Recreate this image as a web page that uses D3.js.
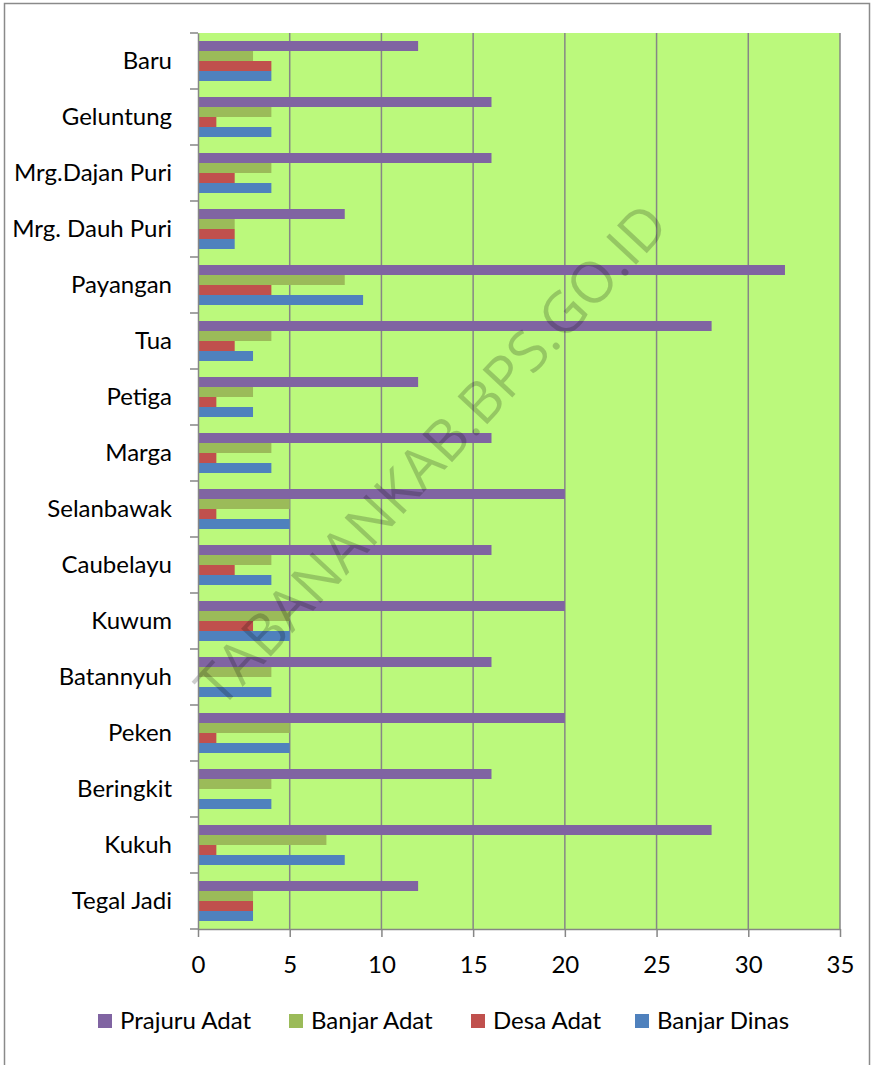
<!DOCTYPE html>
<html>
<head>
<meta charset="utf-8">
<script src="https://cdn.jsdelivr.net/npm/d3@7"></script>
<style>
  body { margin: 0; background: #fff; }
  svg text { font-family: Lato, 'Open Sans', sans-serif; fill: #000; }
</style>
</head>
<body>
<div id="chart"></div>
<script>
// categories, top to bottom
const villages = ['Baru', 'Geluntung', 'Mrg.Dajan Puri', 'Mrg. Dauh Puri', 'Payangan', 'Tua',
  'Petiga', 'Marga', 'Selanbawak', 'Caubelayu', 'Kuwum', 'Batannyuh', 'Peken', 'Beringkit',
  'Kukuh', 'Tegal Jadi']

const seriesNames = ['Prajuru Adat', 'Banjar Adat', 'Desa Adat', 'Banjar Dinas']
const seriesColors = ['#8064A2', '#9BBB59', '#C0504D', '#4F81BD']

const prajuruAdat = [12, 16, 16, 8, 32, 28, 12, 16, 20, 16, 20, 16, 20, 16, 28, 12]
const banjarAdat  = [3, 4, 4, 2, 8, 4, 3, 4, 5, 4, 5, 4, 5, 4, 7, 3]
const desaAdat    = [4, 1, 2, 2, 4, 2, 1, 1, 1, 2, 3, 0, 1, 0, 1, 3]
const banjarDinas = [4, 4, 4, 2, 9, 3, 3, 4, 5, 4, 5, 4, 5, 4, 8, 3]

const xTicks = [0, 5, 10, 15, 20, 25, 30, 35]

const seriesValues = [prajuruAdat, banjarAdat, desaAdat, banjarDinas]

let width = 871, height = 1065
let margin = { top: 33, right: 31, bottom: 136, left: 198 }
let chartWidth = width - margin.left - margin.right
let chartHeight = height - margin.top - margin.bottom
let axisGray = '#868686'
let fontSize = '24px'

let svg = d3.select('#chart').append('svg')
  .attr('width', width)
  .attr('height', height)

// outer frame
svg.append('rect')
  .attr('x', 4.5).attr('y', 3.5)
  .attr('width', 865).attr('height', 1080)
  .attr('fill', '#fff')
  .attr('stroke', '#8a8a8a')
  .attr('stroke-width', 1.5)

let x = d3.scaleLinear().domain([0, 35]).range([0, chartWidth])
let y = d3.scaleBand().domain(villages).range([0, chartHeight]).padding(0)
let ySub = d3.scaleBand().domain(seriesNames).range([0, y.bandwidth()])
  .paddingInner(0).paddingOuter(0.8)

let chartArea = svg.append('g')
  .attr('transform', 'translate(' + margin.left + ',' + margin.top + ')')

chartArea.append('rect')
  .attr('width', chartWidth)
  .attr('height', chartHeight)
  .attr('fill', '#BBF97C')

// vertical gridlines
chartArea.selectAll('line.grid')
  .data(xTicks.slice(1))
  .enter().append('line')
  .attr('class', 'grid')
  .attr('x1', d => x(d)).attr('x2', d => x(d))
  .attr('y1', 0).attr('y2', chartHeight)
  .attr('stroke', axisGray)
  .attr('stroke-width', 1.5)

// bars
let rows = villages.map((v, i) => ({ name: v, values: seriesValues.map((s, j) => ({ series: seriesNames[j], value: s[i], color: seriesColors[j] })) }))

let groups = chartArea.selectAll('g.village')
  .data(rows)
  .enter().append('g')
  .attr('class', 'village')
  .attr('transform', d => 'translate(0,' + y(d.name) + ')')

groups.selectAll('rect')
  .data(d => d.values)
  .enter().append('rect')
  .attr('x', 0)
  .attr('y', d => ySub(d.series))
  .attr('width', d => x(d.value))
  .attr('height', ySub.bandwidth())
  .attr('fill', d => d.color)

// watermark
chartArea.append('text')
  .attr('transform', 'translate(237,425) rotate(-47)')
  .attr('text-anchor', 'middle')
  .attr('dominant-baseline', 'middle')
  .style('font-family', "'Open Sans', sans-serif")
  .style('font-weight', 400)
  .style('font-size', '57px')
  .style('fill', '#000')
  .style('fill-opacity', 0.2)
  .text('TABANANKAB.BPS.GO.ID')

// y axis
let yAxis = chartArea.append('g')
  .call(d3.axisLeft(y).tickSize(0).tickPadding(26))
yAxis.select('.domain').attr('stroke', axisGray).attr('stroke-width', 1.5)
yAxis.selectAll('text').style('font-size', fontSize)

let bounds = villages.map(v => y(v)).concat([chartHeight])
chartArea.selectAll('line.ytick')
  .data(bounds)
  .enter().append('line')
  .attr('class', 'ytick')
  .attr('x1', -8).attr('x2', 0)
  .attr('y1', d => d).attr('y2', d => d)
  .attr('stroke', axisGray)
  .attr('stroke-width', 1.5)

// x axis
let xAxis = chartArea.append('g')
  .attr('transform', 'translate(0,' + chartHeight + ')')
  .call(d3.axisBottom(x).tickValues(xTicks).tickSize(8).tickPadding(19).tickSizeOuter(0))
xAxis.select('.domain').attr('stroke', axisGray).attr('stroke-width', 1.5)
xAxis.selectAll('line').attr('stroke', axisGray).attr('stroke-width', 1.5)
xAxis.selectAll('text').style('font-size', fontSize)

// legend
let legendX = [98, 289, 471, 635]
let legend = svg.append('g')
  .attr('transform', 'translate(0,1021)')
let items = legend.selectAll('g')
  .data(seriesNames)
  .enter().append('g')
  .attr('transform', (d, i) => 'translate(' + legendX[i] + ',0)')
items.append('rect')
  .attr('x', 0).attr('y', -7)
  .attr('width', 14).attr('height', 14)
  .attr('fill', (d, i) => seriesColors[i])
items.append('text')
  .attr('x', 22)
  .attr('dy', '0.35em')
  .style('font-size', fontSize)
  .text(d => d)
</script>
</body>
</html>
